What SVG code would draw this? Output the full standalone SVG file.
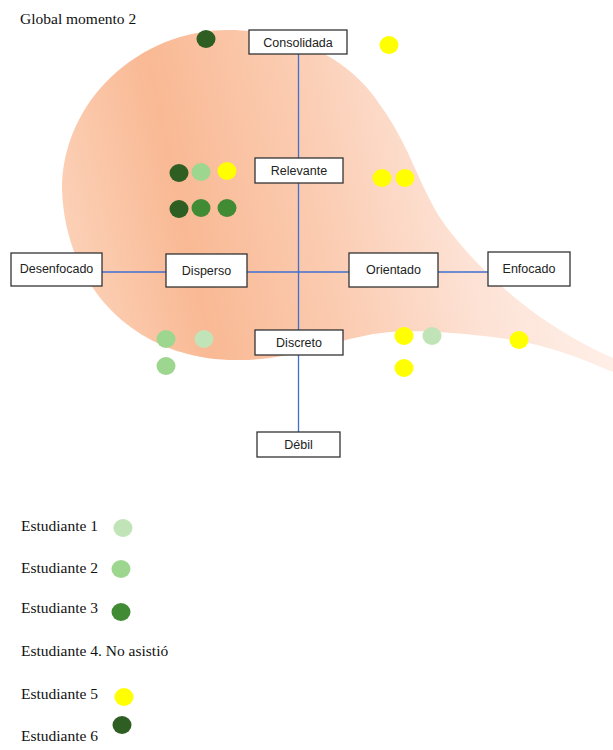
<svg xmlns="http://www.w3.org/2000/svg" width="613" height="750" viewBox="0 0 613 750">
  <defs>
    <linearGradient id="dropFill" gradientUnits="userSpaceOnUse" x1="62" y1="250" x2="613" y2="130">
      <stop offset="0" stop-color="#fcd2b9"/>
      <stop offset="0.22" stop-color="#f9b994"/>
      <stop offset="0.45" stop-color="#fbcbb0"/>
      <stop offset="0.7" stop-color="#fde2d5"/>
      <stop offset="1" stop-color="#fff4ef"/>
    </linearGradient>
  </defs>
  <style>
    .box { fill: #ffffff; stroke: #333333; stroke-width: 1.3; }
    .lbl { font-family: "Liberation Sans", Arial, sans-serif; font-size: 12.5px; fill: #222222; text-anchor: middle; }
    .axis { stroke: #3f6fd0; stroke-width: 1.3; fill: none; }
    .serif { font-family: "Liberation Serif", "Times New Roman", serif; font-size: 15.5px; fill: #111111; }
    .s1 { fill: #c0e4b8; }
    .s2 { fill: #9dd68f; }
    .s3 { fill: #428b35; }
    .s5 { fill: #ffff00; }
    .s6 { fill: #2e5e22; }
  </style>

  <rect width="613" height="750" fill="#ffffff"/>

  <!-- background teardrop -->
  <path d="M 613 372 C 580 358, 550 345, 500 338 C 460 333, 420 330, 390 332 C 340 336, 300 360, 240 360 C 140 362, 66 292, 62 190 C 62 100, 140 30, 228 30 C 300 30, 355 65, 380 105 C 410 145, 420 190, 445 225 C 490 285, 550 330, 613 358 Z" fill="url(#dropFill)"/>

  <text class="serif" x="20" y="24">Global momento 2</text>

  <!-- axes -->
  <g id="connectors">
    <line class="axis" x1="298.5" y1="54" x2="298.5" y2="432"/>
    <line class="axis" x1="102" y1="272" x2="488" y2="272"/>
  </g>

  <!-- axis nodes -->
  <g id="consolidada">
    <rect class="box" x="249" y="30" width="98" height="24"/>
    <text class="lbl" x="298" y="46.5">Consolidada</text>
  </g>
  <g id="relevante">
    <rect class="box" x="255" y="158" width="88" height="25"/>
    <text class="lbl" x="299" y="175">Relevante</text>
  </g>
  <g id="desenfocado">
    <rect class="box" x="11" y="253" width="91" height="33"/>
    <text class="lbl" x="56.5" y="273">Desenfocado</text>
  </g>
  <g id="disperso">
    <rect class="box" x="166" y="254" width="81" height="33"/>
    <text class="lbl" x="206.5" y="275">Disperso</text>
  </g>
  <g id="orientado">
    <rect class="box" x="349" y="253" width="89" height="34"/>
    <text class="lbl" x="393.5" y="274">Orientado</text>
  </g>
  <g id="enfocado">
    <rect class="box" x="488" y="252" width="82" height="34"/>
    <text class="lbl" x="529" y="273">Enfocado</text>
  </g>
  <g id="discreto">
    <rect class="box" x="255" y="330" width="88" height="25"/>
    <text class="lbl" x="299" y="347">Discreto</text>
  </g>
  <g id="debil">
    <rect class="box" x="257" y="432" width="83" height="25"/>
    <text class="lbl" x="298.5" y="449">Débil</text>
  </g>

  <!-- student marks -->
  <g id="marks">
    <ellipse class="s6" cx="206" cy="39" rx="9.5" ry="9"/>
    <ellipse class="s5" cx="389" cy="45" rx="9.5" ry="9"/>

    <ellipse class="s6" cx="179" cy="173" rx="9.5" ry="9"/>
    <ellipse class="s2" cx="201" cy="172" rx="9.5" ry="9"/>
    <ellipse class="s5" cx="227" cy="171" rx="9.5" ry="9"/>
    <ellipse class="s6" cx="179" cy="209" rx="9.5" ry="9"/>
    <ellipse class="s3" cx="201" cy="208" rx="9.5" ry="9"/>
    <ellipse class="s3" cx="227" cy="208" rx="9.5" ry="9"/>

    <ellipse class="s5" cx="382" cy="178" rx="9.5" ry="9"/>
    <ellipse class="s5" cx="405" cy="178" rx="9.5" ry="9"/>

    <ellipse class="s2" cx="166" cy="339" rx="9.5" ry="9"/>
    <ellipse class="s1" cx="204" cy="339" rx="9.5" ry="9"/>
    <ellipse class="s2" cx="166" cy="366" rx="9.5" ry="9"/>

    <ellipse class="s5" cx="404" cy="336" rx="9.5" ry="9"/>
    <ellipse class="s1" cx="432" cy="336" rx="9.5" ry="9"/>
    <ellipse class="s5" cx="519" cy="340" rx="9.5" ry="9"/>
    <ellipse class="s5" cx="404" cy="368" rx="9.5" ry="9"/>
  </g>

  <!-- legend -->
  <g id="legend">
    <text class="serif" x="21" y="531">Estudiante 1</text>
    <ellipse class="s1" cx="123" cy="528" rx="9.5" ry="9"/>
    <text class="serif" x="21" y="573">Estudiante 2</text>
    <ellipse class="s2" cx="121" cy="569" rx="9.5" ry="9"/>
    <text class="serif" x="21" y="613">Estudiante 3</text>
    <ellipse class="s3" cx="121" cy="612" rx="9.5" ry="9"/>
    <text class="serif" x="21" y="656">Estudiante 4. No asistió</text>
    <text class="serif" x="21" y="699">Estudiante 5</text>
    <ellipse class="s5" cx="124" cy="697" rx="9.5" ry="9"/>
    <text class="serif" x="21" y="741">Estudiante 6</text>
    <ellipse class="s6" cx="122" cy="725" rx="9.5" ry="9"/>
  </g>
</svg>
